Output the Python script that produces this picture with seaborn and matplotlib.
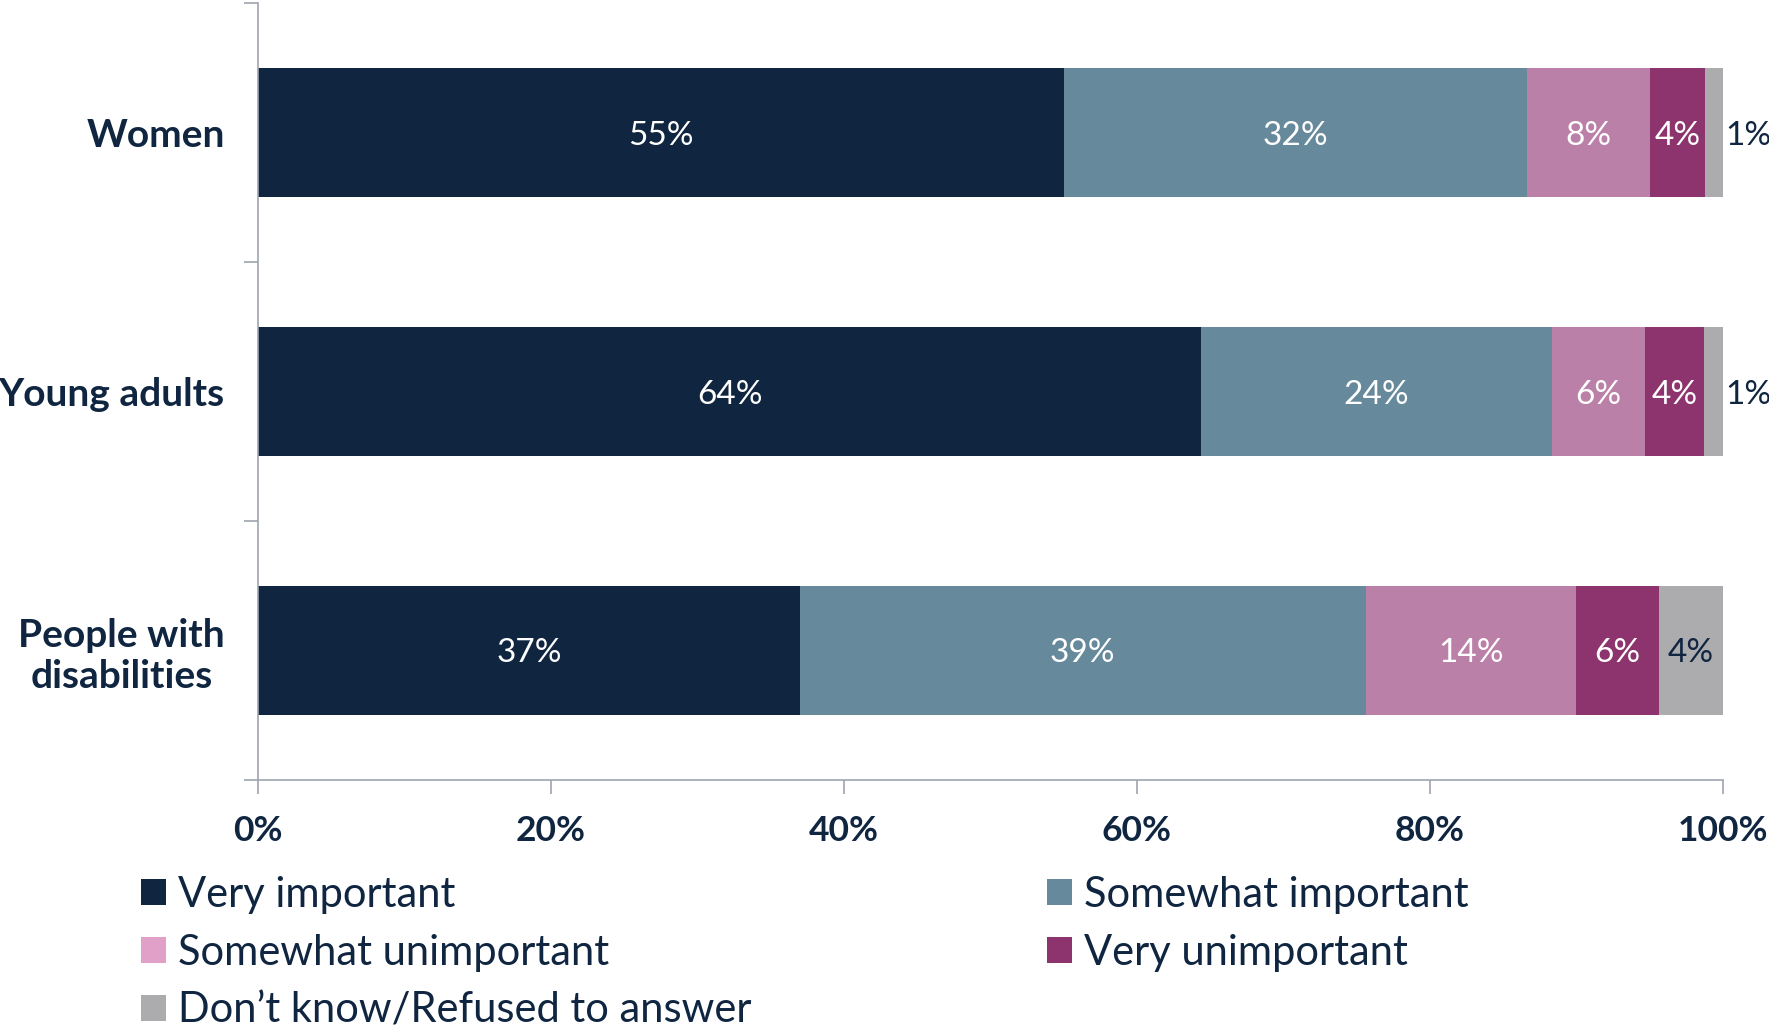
import matplotlib
matplotlib.use("Agg")
import matplotlib.pyplot as plt
import seaborn as sns
import pandas as pd
import numpy as np
from matplotlib.patches import Patch

categories = ["Women", "Young adults", "People with\ndisabilities"]
series = ["Very important", "Somewhat important", "Somewhat unimportant",
          "Very unimportant", "Don\u2019t know/Refused to answer"]
very_important = [55.0, 64.4, 37.0]
somewhat_important = [31.6, 23.9, 38.6]
somewhat_unimportant = [8.4, 6.4, 14.4]
very_unimportant = [3.8, 4.0, 5.6]
dont_know = [1.2, 1.3, 4.4]
values = [very_important, somewhat_important, somewhat_unimportant, very_unimportant, dont_know]
colors = ["#0F2540", "#67899C", "#BA80A8", "#8D336D", "#ACACAE"]
legend_colors = ["#0F2540", "#67899C", "#E0A0C8", "#8D336D", "#ACACAE"]
xticks = [0, 20, 40, 60, 80, 100]
xtick_labels = ["0%", "20%", "40%", "60%", "80%", "100%"]

sns.set_theme(style="white")
plt.rcParams["font.family"] = ["Lato", "DejaVu Sans"]
navy = "#0F2540"

fig = plt.figure(figsize=(17.69, 10.31), dpi=100)
ax = fig.add_axes([0.1458, 0.2435, 0.974 - 0.1458, 0.997 - 0.2435])

vals = np.array(values)
cum = np.cumsum(vals, axis=0)
for i in range(len(series) - 1, -1, -1):
    df = pd.DataFrame({"cat": categories, "val": cum[i]})
    sns.barplot(data=df, y="cat", x="val", orient="h", color=colors[i],
                width=0.5, saturation=1, ax=ax, linewidth=0)

# labels
lab_fs = 24
for j, cat in enumerate(categories):
    left = 0
    for i in range(len(series)):
        v = vals[i][j]
        lab = f"{int(round(v))}%"
        if i == len(series) - 1:
            if v < 2:
                ax.text(101.7, j, lab, ha="center", va="center_baseline", fontsize=lab_fs,
                        color=navy, clip_on=False)
            else:
                ax.text(left + v / 2, j, lab, ha="center", va="center_baseline",
                        fontsize=lab_fs, color=navy)
        else:
            ax.text(left + v / 2, j, lab, ha="center", va="center_baseline",
                    fontsize=lab_fs, color="white")
        left += v

ax.set_xlim(0, 100)
ax.set_ylim(2.5, -0.5)
ax.set_xlabel("")
ax.set_ylabel("")
ax.set_xticks(xticks)
ax.set_xticklabels(xtick_labels, fontsize=25.5, fontweight="bold", color=navy)
ax.set_yticks(range(len(categories)))
ax.set_yticklabels(categories, fontsize=28, fontweight="bold", color=navy,
                   multialignment="center", linespacing=1.2)
ax.set_yticks([-0.5, 0.5, 1.5, 2.5], minor=True)
ax.tick_params(axis="y", which="major", length=0, pad=24)
ax.tick_params(axis="y", which="minor", length=10, width=1.2, color="#A0A4B0", left=True)
ax.tick_params(axis="x", which="major", length=10, width=1.2, color="#A0A4B0", pad=15,
               bottom=True)
for s in ["top", "right"]:
    ax.spines[s].set_visible(False)
for s in ["left", "bottom"]:
    ax.spines[s].set_color("#A0A4B0")
    ax.spines[s].set_linewidth(1.2)

order = [0, 2, 4, 1, 3]
handles = [Patch(facecolor=legend_colors[i], edgecolor="none") for i in order]
labels = [series[i] for i in order]
fig.legend(handles, labels, loc="upper left", bbox_to_anchor=(0.0797, 0.1506), ncol=2,
           frameon=False, fontsize=30, labelcolor=navy, handlelength=0.6,
           handleheight=0.6, handletextpad=0.3, columnspacing=7.07,
           labelspacing=0.48, borderaxespad=0, borderpad=0)

fig.savefig("out.png", dpi=100)
